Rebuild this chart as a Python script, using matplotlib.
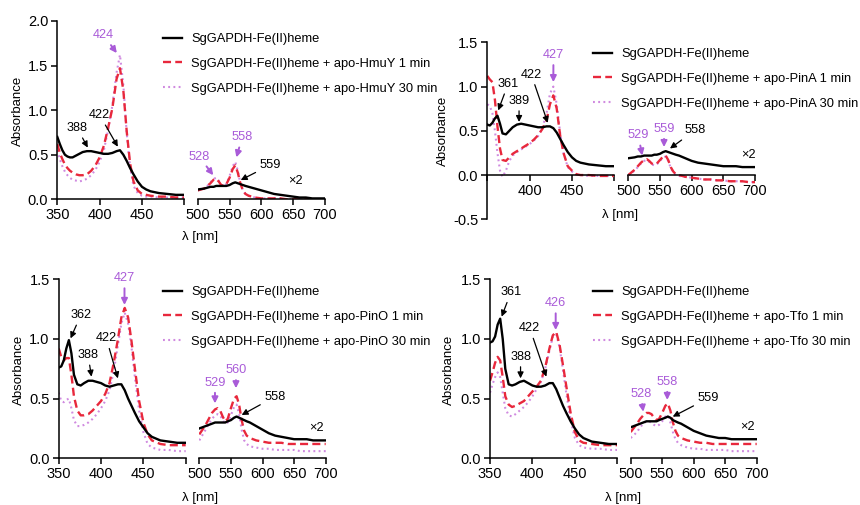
import matplotlib
matplotlib.use('Agg')
from matplotlib import pyplot as plt
from matplotlib.ticker import FixedLocator

plt.rcParams['font.family'] = ['Liberation Sans', 'DejaVu Sans']
plt.rcParams['axes.unicode_minus'] = False

# wavelength grids (nm) for the two parts of the broken x axis
WL_LEFT = [350, 353, 356, 359, 362, 365, 368, 372, 376, 380, 385, 390, 395, 400, 405, 410,
           415, 420, 424, 428, 432, 436, 440, 445, 450, 455, 460, 470, 480, 490, 500]
WL_RIGHT = [500, 510, 515, 520, 525, 529, 533, 537, 541, 545, 550, 555, 559, 563, 567, 571,
            575, 580, 590, 600, 610, 620, 630, 640, 650, 660, 670, 680, 690, 700]

# ---- apo-HmuY ----
HMUY_BLACK_L = [0.70, 0.62, 0.55, 0.50, 0.48, 0.47, 0.47, 0.49, 0.51, 0.53, 0.54, 0.54, 0.53, 0.52, 0.51, 0.51,
                0.52, 0.54, 0.55, 0.50, 0.43, 0.35, 0.28, 0.20, 0.14, 0.11, 0.09, 0.07, 0.06, 0.05, 0.05]
HMUY_1MIN_L = [0.62, 0.52, 0.45, 0.39, 0.35, 0.32, 0.30, 0.28, 0.27, 0.27, 0.28, 0.32, 0.38, 0.47, 0.60, 0.80,
               1.02, 1.35, 1.47, 1.22, 0.76, 0.40, 0.20, 0.10, 0.06, 0.05, 0.04, 0.03, 0.03, 0.02, 0.02]
HMUY_30MIN_L = [0.55, 0.45, 0.37, 0.31, 0.27, 0.24, 0.22, 0.21, 0.20, 0.21, 0.23, 0.27, 0.33, 0.42, 0.55, 0.78,
                1.05, 1.42, 1.62, 1.28, 0.74, 0.36, 0.15, 0.07, 0.04, 0.03, 0.03, 0.02, 0.02, 0.02, 0.02]
HMUY_BLACK_R = [0.11, 0.12, 0.13, 0.14, 0.14, 0.15, 0.15, 0.15, 0.15, 0.15, 0.16, 0.18, 0.19, 0.18, 0.17, 0.16,
                0.15, 0.14, 0.12, 0.10, 0.08, 0.06, 0.05, 0.04, 0.03, 0.02, 0.02, 0.01, 0.01, 0.01]
HMUY_1MIN_R = [0.10, 0.12, 0.15, 0.18, 0.22, 0.23, 0.20, 0.16, 0.15, 0.17, 0.24, 0.34, 0.38, 0.30, 0.18, 0.10,
               0.06, 0.04, 0.02, 0.01, 0.01, 0.01, 0.01, 0.00, 0.00, 0.00, 0.00, 0.00, 0.00, 0.00]
HMUY_30MIN_R = [0.10, 0.12, 0.15, 0.19, 0.23, 0.24, 0.21, 0.16, 0.15, 0.17, 0.26, 0.37, 0.42, 0.32, 0.18, 0.10,
                0.06, 0.04, 0.02, 0.01, 0.01, 0.01, 0.01, 0.00, 0.00, 0.00, 0.00, 0.00, 0.00, 0.00]

# ---- apo-PinA ----
PINA_BLACK_L = [0.57, 0.56, 0.59, 0.64, 0.67, 0.58, 0.47, 0.46, 0.50, 0.54, 0.57, 0.58, 0.57, 0.56, 0.55, 0.54,
                0.54, 0.55, 0.55, 0.53, 0.48, 0.41, 0.34, 0.26, 0.20, 0.16, 0.14, 0.12, 0.11, 0.10, 0.10]
PINA_1MIN_L = [1.12, 1.08, 1.05, 0.85, 0.55, 0.30, 0.17, 0.16, 0.20, 0.24, 0.27, 0.30, 0.33, 0.36, 0.40, 0.45,
               0.52, 0.62, 0.80, 0.90, 0.75, 0.45, 0.25, 0.10, 0.05, 0.01, 0.00, 0.00, -0.01, -0.01, -0.01]
PINA_30MIN_L = [0.80, 0.78, 0.70, 0.50, 0.25, 0.05, -0.02, 0.05, 0.16, 0.22, 0.26, 0.29, 0.32, 0.35, 0.39, 0.44,
                0.53, 0.70, 0.92, 1.00, 0.80, 0.48, 0.25, 0.09, 0.04, 0.01, 0.00, -0.01, -0.01, -0.01, -0.01]
PINA_BLACK_R = [0.19, 0.20, 0.21, 0.21, 0.22, 0.22, 0.22, 0.22, 0.23, 0.23, 0.24, 0.26, 0.27, 0.26, 0.25, 0.24,
                0.23, 0.22, 0.19, 0.16, 0.14, 0.13, 0.12, 0.11, 0.10, 0.10, 0.10, 0.09, 0.09, 0.09]
PINA_1MIN_R = [0.00, 0.06, 0.10, 0.14, 0.17, 0.18, 0.16, 0.13, 0.12, 0.13, 0.17, 0.21, 0.22, 0.17, 0.09, 0.04,
               0.01, 0.00, -0.02, -0.03, -0.04, -0.05, -0.05, -0.06, -0.06, -0.07, -0.07, -0.07, -0.08, -0.08]
PINA_30MIN_R = [0.00, 0.05, 0.09, 0.13, 0.16, 0.17, 0.15, 0.12, 0.11, 0.12, 0.16, 0.20, 0.21, 0.16, 0.08, 0.03,
                0.00, -0.01, -0.02, -0.03, -0.04, -0.05, -0.05, -0.06, -0.06, -0.07, -0.07, -0.07, -0.08, -0.08]

# ---- apo-PinO ----
PINO_BLACK_L = [0.76, 0.77, 0.82, 0.92, 0.99, 0.88, 0.70, 0.62, 0.61, 0.63, 0.65, 0.65, 0.64, 0.63, 0.61, 0.60,
                0.61, 0.62, 0.62, 0.57, 0.50, 0.44, 0.38, 0.31, 0.26, 0.21, 0.18, 0.15, 0.14, 0.13, 0.13]
PINO_1MIN_L = [0.92, 0.85, 0.82, 0.84, 0.84, 0.70, 0.52, 0.40, 0.36, 0.36, 0.37, 0.40, 0.44, 0.48, 0.54, 0.63,
               0.80, 1.00, 1.18, 1.26, 1.18, 0.98, 0.75, 0.48, 0.30, 0.20, 0.15, 0.12, 0.11, 0.11, 0.11]
PINO_30MIN_L = [0.55, 0.48, 0.47, 0.49, 0.50, 0.42, 0.32, 0.27, 0.27, 0.28, 0.30, 0.33, 0.37, 0.42, 0.48, 0.57,
                0.73, 0.95, 1.13, 1.22, 1.13, 0.93, 0.68, 0.40, 0.22, 0.12, 0.09, 0.07, 0.07, 0.06, 0.06]
PINO_BLACK_R = [0.25, 0.27, 0.28, 0.29, 0.30, 0.30, 0.30, 0.30, 0.30, 0.31, 0.32, 0.34, 0.35, 0.34, 0.33, 0.32,
                0.31, 0.30, 0.27, 0.24, 0.21, 0.19, 0.18, 0.17, 0.16, 0.16, 0.16, 0.15, 0.15, 0.15]
PINO_1MIN_R = [0.20, 0.28, 0.33, 0.38, 0.41, 0.42, 0.40, 0.35, 0.31, 0.33, 0.42, 0.50, 0.52, 0.45, 0.32, 0.23,
               0.19, 0.17, 0.15, 0.14, 0.13, 0.13, 0.13, 0.12, 0.12, 0.12, 0.12, 0.12, 0.12, 0.12]
PINO_30MIN_R = [0.15, 0.24, 0.29, 0.33, 0.36, 0.37, 0.36, 0.32, 0.29, 0.30, 0.36, 0.43, 0.45, 0.37, 0.24, 0.15,
                0.12, 0.10, 0.09, 0.08, 0.08, 0.07, 0.07, 0.07, 0.07, 0.06, 0.06, 0.06, 0.06, 0.06]

# ---- apo-Tfo ----
TFO_BLACK_L = [0.97, 0.98, 1.02, 1.12, 1.17, 1.00, 0.75, 0.62, 0.61, 0.62, 0.64, 0.65, 0.63, 0.61, 0.60, 0.60,
               0.61, 0.63, 0.63, 0.58, 0.51, 0.44, 0.38, 0.31, 0.25, 0.20, 0.17, 0.14, 0.13, 0.12, 0.12]
TFO_1MIN_L = [0.65, 0.72, 0.80, 0.85, 0.82, 0.68, 0.52, 0.45, 0.43, 0.44, 0.46, 0.48, 0.52, 0.56, 0.60, 0.65,
              0.76, 0.92, 1.03, 1.06, 0.95, 0.78, 0.60, 0.38, 0.22, 0.15, 0.13, 0.12, 0.11, 0.11, 0.11]
TFO_30MIN_L = [0.55, 0.62, 0.68, 0.72, 0.68, 0.55, 0.42, 0.36, 0.35, 0.37, 0.40, 0.43, 0.47, 0.52, 0.58, 0.64,
               0.75, 0.90, 1.02, 1.04, 0.93, 0.74, 0.54, 0.32, 0.17, 0.11, 0.09, 0.08, 0.08, 0.07, 0.07]
TFO_BLACK_R = [0.26, 0.28, 0.29, 0.30, 0.31, 0.31, 0.31, 0.31, 0.31, 0.32, 0.33, 0.34, 0.35, 0.34, 0.32, 0.31,
               0.30, 0.29, 0.26, 0.23, 0.21, 0.19, 0.18, 0.17, 0.17, 0.16, 0.16, 0.16, 0.16, 0.16]
TFO_1MIN_R = [0.22, 0.29, 0.33, 0.36, 0.38, 0.38, 0.37, 0.34, 0.32, 0.33, 0.38, 0.44, 0.46, 0.40, 0.30, 0.23,
              0.19, 0.17, 0.15, 0.14, 0.13, 0.13, 0.12, 0.12, 0.12, 0.12, 0.12, 0.12, 0.12, 0.12]
TFO_30MIN_R = [0.17, 0.22, 0.26, 0.29, 0.31, 0.31, 0.30, 0.28, 0.27, 0.28, 0.31, 0.35, 0.36, 0.30, 0.22, 0.16,
               0.13, 0.11, 0.09, 0.08, 0.08, 0.07, 0.07, 0.07, 0.07, 0.06, 0.06, 0.06, 0.06, 0.06]

W, H = 860, 505
RED = '#e8283c'
PURPLE_LINE = '#d08ae0'
PURPLE_TEXT = '#a95bd8'


def box(x0, x1, ytop, ybot):
    # pixel box -> figure fraction
    return [x0 / W, 1 - ybot / H, (x1 - x0) / W, (ybot - ytop) / H]


def draw_panel(fig, lbox, rbox, ylim, yticks, left, right, protein, notes,
               legend_xy, ylabel_xy, xlabel_xy, x2_xy, zero_axis=False, label_350=True):
    axL = fig.add_axes(lbox)
    axR = fig.add_axes(rbox)
    styles = [dict(color='black', lw=1.7, ls='-', zorder=3),
              dict(color=RED, lw=1.7, ls=(0, (3.4, 1.8)), zorder=2.5),
              dict(color=PURPLE_LINE, lw=1.5, ls=(0, (0.9, 1.6)), zorder=2)]
    names = ['SgGAPDH-Fe(II)heme',
             'SgGAPDH-Fe(II)heme + apo-%s 1 min' % protein,
             'SgGAPDH-Fe(II)heme + apo-%s 30 min' % protein]

    handles = []
    for ys, st in zip(left, styles):
        h, = axL.plot(WL_LEFT, ys, **st)
        handles.append(h)
    for ys, st in zip(right, styles):
        axR.plot(WL_RIGHT, ys, **st)

    for ax in (axL, axR):
        ax.set_ylim(ylim)
        ax.patch.set_alpha(0)
        ax.spines['top'].set_visible(False)
        ax.spines['right'].set_visible(False)
        ax.spines['bottom'].set_linewidth(1.1)
        if zero_axis:
            ax.spines['bottom'].set_position(('data', 0))
        ax.tick_params(direction='out', length=4.5, width=1.1, labelsize=10.5, pad=2)
        ax.xaxis.set_minor_locator(FixedLocator([500]))
        ax.tick_params(axis='x', which='minor', direction='in', length=3, width=1.1)

    axL.set_xlim(350, 500)
    axL.set_xticks([350, 400, 450, 500])
    axL.set_xticklabels(['350' if label_350 else '', '400', '450', ''])
    axL.set_yticks(yticks)
    axL.set_yticklabels(['%.1f' % t for t in yticks])
    axL.spines['left'].set_linewidth(1.1)

    axR.set_xlim(500, 700)
    axR.set_xticks([500, 550, 600, 650, 700])
    axR.spines['left'].set_visible(False)
    axR.tick_params(axis='y', left=False, labelleft=False)

    for seg, txt, xy_text, xy_tip, purple in notes:
        ax = axL if seg == 'L' else axR
        c = PURPLE_TEXT if purple else 'black'
        ax.annotate(txt, xy=xy_tip, xytext=xy_text, ha='center', va='center', fontsize=9.2,
                    color=c, annotation_clip=False, zorder=5,
                    arrowprops=dict(arrowstyle='-|>', color=c, lw=1.4 if purple else 0.9,
                                    mutation_scale=9, shrinkA=1, shrinkB=0))

    axR.text(x2_xy[0], x2_xy[1], '×2', ha='center', va='center', fontsize=9.2)

    axL.legend(handles, names, loc='upper left',
               bbox_to_anchor=(legend_xy[0] / W, 1 - legend_xy[1] / H),
               bbox_transform=fig.transFigure, frameon=False, fontsize=9.3,
               handlelength=1.5, handletextpad=0.7, labelspacing=1.0,
               borderpad=0, borderaxespad=0)

    fig.text(ylabel_xy[0] / W, 1 - ylabel_xy[1] / H, 'Absorbance', rotation=90,
             ha='center', va='center', fontsize=9.5)
    fig.text(xlabel_xy[0] / W, 1 - xlabel_xy[1] / H, 'λ [nm]',
             ha='center', va='center', fontsize=9.5)


def main():
    fig = plt.figure(figsize=(8.6, 5.05), dpi=100)

    draw_panel(fig, box(57.3, 184.3, 21, 199.3), box(197.7, 325, 21, 199.3),
               (0, 2.0), [0.0, 0.5, 1.0, 1.5, 2.0],
               [HMUY_BLACK_L, HMUY_1MIN_L, HMUY_30MIN_L],
               [HMUY_BLACK_R, HMUY_1MIN_R, HMUY_30MIN_R], 'HmuY',
               [('L', '388', (373.4, 0.80), (386, 0.58), False),
                ('L', '422', (400, 0.945), (421.5, 0.59), False),
                ('L', '424', (404.7, 1.84), (420.3, 1.64), True),
                ('R', '528', (502, 0.48), (524.5, 0.27), True),
                ('R', '558', (569.8, 0.695), (560.8, 0.47), True),
                ('R', '559', (614, 0.385), (567.6, 0.216), False)],
               legend_xy=(163, 33), ylabel_xy=(18, 111), xlabel_xy=(200, 237), x2_xy=(653, 0.205))

    draw_panel(fig, box(487.3, 614.3, 42.3, 219.3), box(628.3, 755, 42.3, 219.3),
               (-0.5, 1.5), [-0.5, 0.0, 0.5, 1.0, 1.5],
               [PINA_BLACK_L, PINA_1MIN_L, PINA_30MIN_L],
               [PINA_BLACK_R, PINA_1MIN_R, PINA_30MIN_R], 'PinA',
               [('L', '361', (374.6, 1.03), (362.9, 0.73), False),
                ('L', '389', (387.5, 0.84), (387.5, 0.60), False),
                ('L', '422', (402, 1.135), (421.4, 0.59), False),
                ('L', '427', (428.1, 1.357), (428, 1.05), True),
                ('R', '529', (515.8, 0.448), (522, 0.22), True),
                ('R', '559', (556.4, 0.523), (556.4, 0.316), True),
                ('R', '558', (605, 0.504), (565.8, 0.30), False)],
               legend_xy=(593, 48), ylabel_xy=(443, 131), xlabel_xy=(620, 215), x2_xy=(689.4, 0.222),
               zero_axis=True, label_350=False)

    draw_panel(fig, box(58.7, 185.7, 279.3, 458.3), box(199.3, 325.7, 279.3, 458.3),
               (0, 1.5), [0.0, 0.5, 1.0, 1.5],
               [PINO_BLACK_L, PINO_1MIN_L, PINO_30MIN_L],
               [PINO_BLACK_R, PINO_1MIN_R, PINO_30MIN_R], 'PinO',
               [('L', '362', (376.1, 1.20), (364, 1.005), False),
                ('L', '388', (384.7, 0.866), (388.7, 0.684), False),
                ('L', '422', (406.3, 1.005), (419.9, 0.67), False),
                ('L', '427', (427.7, 1.51), (427.7, 1.285), True),
                ('R', '529', (524.8, 0.634), (524.8, 0.46), True),
                ('R', '560', (558, 0.74), (558, 0.587), True),
                ('R', '558', (619.6, 0.516), (567, 0.363), False)],
               legend_xy=(163, 286), ylabel_xy=(19, 370), xlabel_xy=(200, 498), x2_xy=(685.6, 0.25))

    draw_panel(fig, box(490, 617.3, 279.3, 458.3), box(630.7, 756.7, 279.3, 458.3),
               (0, 1.5), [0.0, 0.5, 1.0, 1.5],
               [TFO_BLACK_L, TFO_1MIN_L, TFO_30MIN_L],
               [TFO_BLACK_R, TFO_1MIN_R, TFO_30MIN_R], 'Tfo',
               [('L', '361', (374.6, 1.39), (363.7, 1.187), False),
                ('L', '388', (386, 0.852), (386, 0.67), False),
                ('L', '422', (396.9, 1.09), (416.4, 0.684), False),
                ('L', '426', (427.4, 1.30), (427.4, 1.075), True),
                ('R', '528', (515.9, 0.539), (520, 0.39), True),
                ('R', '558', (558, 0.642), (558, 0.489), True),
                ('R', '559', (623, 0.503), (566.7, 0.349), False)],
               legend_xy=(593, 286), ylabel_xy=(449, 370), xlabel_xy=(623, 498), x2_xy=(685, 0.265))

    fig.savefig('out.png', dpi=100)


if __name__ == '__main__':
    main()
